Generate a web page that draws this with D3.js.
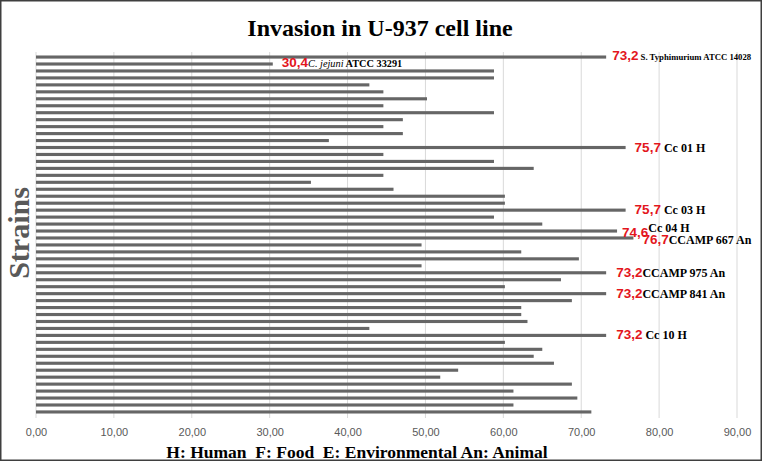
<!DOCTYPE html>
<html>
<head>
<meta charset="utf-8">
<script src="https://cdn.jsdelivr.net/npm/d3@7"></script>
<style>
  body { margin: 0; background: #fff; }
  svg { display: block; }
</style>
</head>
<body>
<div class="chart"></div>
<script>
// invasion values (%), top bar first
var values = [73.2, 30.4, 58.8, 58.8, 42.8, 44.6, 50.2, 44.6, 58.8, 47.1,
              44.6, 47.1, 37.6, 75.7, 44.6, 58.8, 63.9, 44.6, 35.3, 45.9,
              60.2, 60.2, 75.7, 58.8, 65.0, 74.6, 76.7, 49.5, 62.3, 69.7,
              49.5, 73.2, 67.4, 60.2, 73.2, 68.8, 62.3, 62.3, 63.1, 42.8,
              73.2, 60.2, 65.0, 63.9, 66.5, 54.2, 51.9, 68.8, 61.3, 69.5,
              61.3, 71.3];

// labelled bars: index into values, shown value, strain name
var labelIndex = [0, 1, 13, 22, 25, 26, 31, 34, 40];
var labelValue = ["73,2", "30,4", "75,7", "75,7", "74,6", "76,7", "73,2", "73,2", "73,2"];
var labelName  = [" S. Typhimurium ATCC 14028", "C. jejuni| ATCC 33291", " Cc 01 H", " Cc 03 H",
                  "Cc 04 H", "CCAMP 667 An", "CCAMP 975 An", "CCAMP 841 An", " Cc 10 H"];

var xTicks = [0, 10, 20, 30, 40, 50, 60, 70, 80, 90];

var W = 762, H = 461;

var svg = d3.select(".chart")
    .append("svg")
    .attr("width", W)
    .attr("height", H);

svg.append("rect")
    .attr("x", 0.75).attr("y", 0.75)
    .attr("width", W - 1.5).attr("height", H - 1.5)
    .attr("fill", "#fff")
    .attr("stroke", "#3f3f3f")
    .attr("stroke-width", 1.5);

var x = d3.scaleLinear().domain([0, 90]).range([36, 737]);
var y = d3.scaleBand()
    .domain(d3.range(values.length))
    .range([52, 417])
    .paddingInner(0.55)
    .paddingOuter(0.5);

// grid
svg.append("g")
    .selectAll("line")
    .data(xTicks)
    .join("line")
    .attr("x1", d => x(d)).attr("x2", d => x(d))
    .attr("y1", 52).attr("y2", 418)
    .attr("stroke", "#d9d9d9")
    .attr("stroke-width", 1);

// x axis labels
var xAxis = svg.append("g")
    .attr("transform", "translate(0,418)")
    .call(d3.axisBottom(x).tickValues(xTicks).tickSize(0).tickPadding(10)
        .tickFormat(d => d3.format(".2f")(d).replace(".", ",")));
xAxis.select(".domain").remove();
xAxis.selectAll("text")
    .attr("fill", "#595959")
    .style("font-size", "11px")
    .attr("font-family", "'Liberation Sans Narrow', Arial, sans-serif");

// bars
svg.append("g")
    .selectAll("rect")
    .data(values)
    .join("rect")
    .attr("x", x(0))
    .attr("y", (d, i) => y(i))
    .attr("width", d => x(d) - x(0))
    .attr("height", y.bandwidth())
    .attr("fill", "#666666");

// data labels
var nudge = { 0: [6, 3], 1: [9, 3], 13: [9, 4], 22: [9, 4], 25: [5, 6], 26: [9, 6], 31: [10, 4], 34: [10, 4], 40: [10, 4] };
var nameSize = { 0: 8.7, 1: 10.3 };
var nameDy = { 25: -5 };

labelIndex.forEach(function (idx, k) {
    var n = nudge[idx];
    var cy = y(idx) + y.bandwidth() / 2;
    var t = svg.append("text")
        .attr("x", x(values[idx]) + n[0])
        .attr("y", cy + n[1])
        .style("white-space", "pre")
        .attr("font-family", "'Liberation Serif', 'Times New Roman', serif")
        .attr("font-weight", "bold");
    t.append("tspan")
        .text(labelValue[k])
        .attr("fill", "#e3161d")
        .attr("font-family", "'Liberation Sans Narrow', Arial, sans-serif")
        .style("font-size", "13.5px");
    var parts = labelName[k].split("|");
    var fs = (nameSize[idx] || 12) + "px";
    if (parts.length > 1) {
        t.append("tspan").text(parts[0]).attr("font-style", "italic").attr("font-weight", "normal")
            .style("font-size", fs).attr("fill", "#000");
        t.append("tspan").text(parts[1]).style("font-size", fs).attr("fill", "#000");
    } else {
        t.append("tspan").text(parts[0])
            .attr("dy", nameDy[idx] || 0)
            .style("font-size", fs).attr("fill", "#000");
    }
});

// title
svg.append("text")
    .attr("x", 380).attr("y", 36)
    .attr("text-anchor", "middle")
    .text("Invasion in U-937 cell line")
    .style("font-size", "24px")
    .attr("font-weight", "bold")
    .attr("font-family", "'Liberation Serif', 'Times New Roman', serif")
    .attr("fill", "#000");

// y title
svg.append("text")
    .attr("transform", "translate(29,233) rotate(-90)")
    .attr("text-anchor", "middle")
    .text("Strains")
    .style("font-size", "30px")
    .attr("font-weight", "bold")
    .attr("font-family", "'Liberation Serif', 'Times New Roman', serif")
    .attr("fill", "#595959");

// x title
svg.append("text")
    .attr("x", 357).attr("y", 458)
    .attr("text-anchor", "middle")
    .style("white-space", "pre")
    .text("H: Human  F: Food  E: Environmental An: Animal")
    .style("font-size", "17.5px")
    .attr("font-weight", "bold")
    .attr("font-family", "'Liberation Serif', 'Times New Roman', serif")
    .attr("fill", "#000");
</script>
</body>
</html>
